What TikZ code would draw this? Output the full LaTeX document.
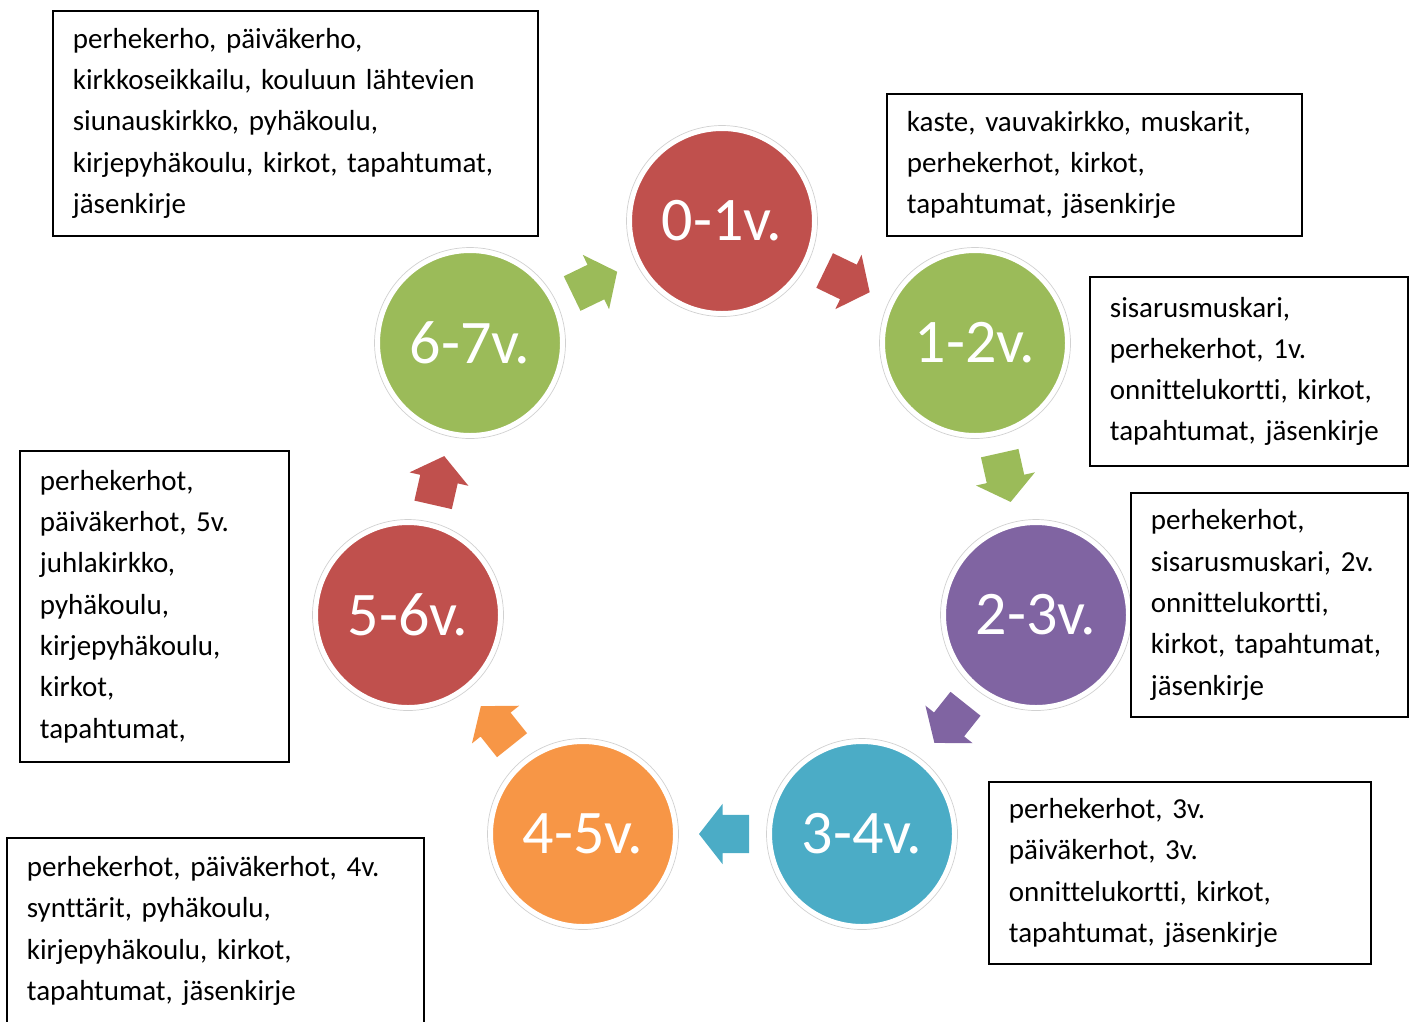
\documentclass[tikz,border=0pt]{standalone}
\usepackage{fontspec}
\setmainfont[Ligatures=NoCommon]{Carlito}
\usetikzlibrary{shapes.arrows}
\definecolor{cyclered}{HTML}{C0504D}
\definecolor{cyclegreen}{HTML}{9BBB59}
\definecolor{cyclepurple}{HTML}{8064A2}
\definecolor{cycleblue}{HTML}{4BACC6}
\definecolor{cycleorange}{HTML}{F79646}
\frenchspacing

\begin{document}
\begin{tikzpicture}[
    x=1pt, y=-1pt,
    stage/.style={circle, draw=white, line width=5pt, minimum size=185pt, inner sep=0pt, text=white, font=\fontsize{62}{64}\selectfont},
    halo/.style={draw=black!18, line width=0.7pt},
    infobox/.style={draw, line width=1.8pt, anchor=north west, align=left, inner xsep=20pt, inner ysep=0pt, font=\fontsize{29}{41.3}\selectfont},
    cyclearrow/.style={single arrow, draw=none, minimum height=50pt, minimum width=60pt, single arrow head extend=11pt, single arrow tip angle=104, inner xsep=0pt, inner ysep=19pt, sloped, allow upside down, midway, xshift=-9pt}
]

% Page
\clip (0,0) rectangle (1415,1021);

% Stages
\node[stage, fill=cyclered] (s01) at (722,221) {0-1v.};
\node[stage, fill=cyclegreen] (s12) at (975,343) {1-2v.};
\node[stage, fill=cyclepurple] (s23) at (1036,615) {2-3v.};
\node[stage, fill=cycleblue] (s34) at (862,834) {3-4v.};
\node[stage, fill=cycleorange] (s45) at (583,834) {4-5v.};
\node[stage, fill=cyclered] (s56) at (408,615) {5-6v.};
\node[stage, fill=cyclegreen] (s67) at (470,343) {6-7v.};

\foreach \s in {s01,s12,s23,s34,s45,s56,s67}
    \draw[halo] (\s) circle[radius=95.5pt];

% Arrows
\path (s01) -- (s12) node[cyclearrow, fill=cyclered] (a1) {};
\path (s12) -- (s23) node[cyclearrow, fill=cyclegreen] (a2) {};
\path (s23) -- (s34) node[cyclearrow, fill=cyclepurple] (a3) {};
\path (s34) -- (s45) node[cyclearrow, fill=cycleblue] (a4) {};
\path (s45) -- (s56) node[cyclearrow, fill=cycleorange] (a5) {};
\path (s56) -- (s67) node[cyclearrow, fill=cyclered] (a6) {};
\path (s67) -- (s01) node[cyclearrow, fill=cyclegreen] (a7) {};

% Activities
\node[infobox, minimum width=485pt, minimum height=225pt, text width=445pt] (b67) at (52,10)
    {perhekerho, päiväkerho,\\kirkkoseikkailu, kouluun lähtevien\\siunauskirkko, pyhäkoulu,\\kirjepyhäkoulu, kirkot, tapahtumat,\\jäsenkirje};
\node[infobox, minimum width=415pt, minimum height=142pt, text width=375pt] (b01) at (886,93)
    {kaste, vauvakirkko, muskarit,\\perhekerhot, kirkot,\\tapahtumat, jäsenkirje};
\node[infobox, minimum width=318pt, minimum height=189pt, text width=278pt] (b12) at (1089,276)
    {sisarusmuskari,\\perhekerhot, 1v.\\onnittelukortti, kirkot,\\tapahtumat, jäsenkirje};
\node[infobox, minimum width=277pt, minimum height=224pt, text width=237pt] (b23) at (1130,492)
    {perhekerhot,\\sisarusmuskari, 2v.\\onnittelukortti,\\kirkot, tapahtumat,\\jäsenkirje};
\node[infobox, minimum width=382pt, minimum height=182pt, text width=342pt] (b34) at (988,781)
    {perhekerhot, 3v.\\päiväkerhot, 3v.\\onnittelukortti, kirkot,\\tapahtumat, jäsenkirje};
\node[infobox, minimum width=417pt, minimum height=186pt, text width=377pt] (b45) at (6,837)
    {perhekerhot, päiväkerhot, 4v.\\synttärit, pyhäkoulu,\\kirjepyhäkoulu, kirkot,\\tapahtumat, jäsenkirje};
\node[infobox, minimum width=269pt, minimum height=311pt, text width=229pt] (b56) at (19,450)
    {perhekerhot,\\päiväkerhot, 5v.\\juhlakirkko,\\pyhäkoulu,\\kirjepyhäkoulu,\\kirkot,\\tapahtumat,};

\end{tikzpicture}
\end{document}
